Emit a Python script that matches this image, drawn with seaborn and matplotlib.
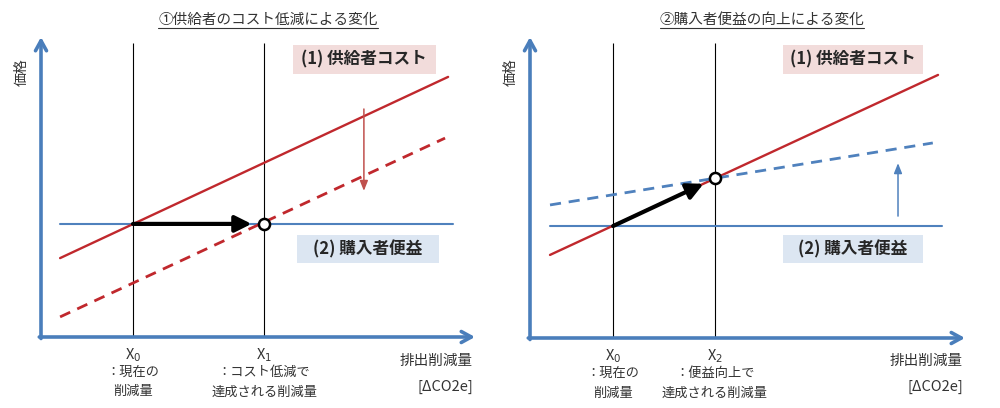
import matplotlib
matplotlib.use("Agg")
import matplotlib.pyplot as plt
import seaborn as sns
from matplotlib.patches import Rectangle
from matplotlib.lines import Line2D

sns.set_theme(style="white")
plt.rcParams['font.family'] = ['Noto Sans CJK JP', 'DejaVu Sans']

# ---------------- data (arbitrary diagram units, 0-100) ----------------
# Left panel: supplier cost reduction
L_x0, L_x1 = 21.2, 51.4
L_benefit_x = [4.4, 95.0]
L_benefit_y = [37.7, 37.7]
L_cost_x = [4.4, 93.8]
L_cost_y = [26.3, 86.7]
L_cost_new_x = [4.4, 93.1]
L_cost_new_y = [6.7, 66.3]
L_shift_arrow_x = 74.4
L_shift_arrow_y = [76.0, 48.7]

# Right panel: buyer benefit improvement
R_x0, R_x2 = 19.1, 42.5
R_benefit_x = [4.6, 94.7]
R_benefit_y = [37.2, 37.2]
R_cost_x = [4.6, 93.8]
R_cost_y = [27.6, 87.4]
R_benefit_new_x = [4.6, 92.6]
R_benefit_new_y = [44.2, 64.8]
R_eq_y = 53.0
R_shift_arrow_x = 84.6
R_shift_arrow_y = [40.5, 58.1]

vline_top = 98

titles = ["①供給者のコスト低減による変化", "②購入者便益の向上による変化"]
ylabel = "価格"
xlabel1 = "排出削減量"
xlabel2 = "[ΔCO2e]"
box1_text = "(1) 供給者コスト"
box2_text = "(2) 購入者便益"
L_ticks = [("X$_0$", "：現在の", "削減量"), ("X$_1$", "：コスト低減で", "達成される削減量")]
R_ticks = [("X$_0$", "：現在の", "削減量"), ("X$_2$", "：便益向上で", "達成される削減量")]

# ---------------- style ----------------
AX_BLUE = "#4A7EBB"
RED = "#C0282D"
RED_ARROW = "#C0504D"
BLUE = "#4F81BD"
PINK_BOX = "#F2DCDB"
BLUE_BOX = "#DCE6F2"
TXT = "#262626"
GRAY_TXT = "#333333"

W, H = 1000, 408
fig = plt.figure(figsize=(W / 100, H / 100), dpi=100)


def px_axes(left, right, bottom, top):
    return fig.add_axes([left / W, 1 - bottom / H, (right - left) / W, (bottom - top) / H])


def setup(ax):
    ax.set_xlim(0, 100)
    ax.set_ylim(0, 100)
    for s in ax.spines.values():
        s.set_visible(False)
    ax.set_xticks([])
    ax.set_yticks([])
    ax.patch.set_alpha(0)
    arrow = dict(arrowstyle="->,head_length=0.6,head_width=0.33", color=AX_BLUE, lw=2.6,
                 shrinkA=0, shrinkB=0)
    ax.annotate("", xy=(0, 1), xytext=(0, -0.005), xycoords="axes fraction",
                arrowprops=arrow, annotation_clip=False)
    ax.annotate("", xy=(1, 0), xytext=(-0.004, 0), xycoords="axes fraction",
                arrowprops=arrow, annotation_clip=False)


def label_box(ax, x0, x1, y0, y1, text, fc):
    ax.add_patch(Rectangle((x0, y0), x1 - x0, y1 - y0, facecolor=fc, edgecolor="none", zorder=1))
    ax.text((x0 + x1) / 2, (y0 + y1) / 2, text, ha="center", va="center", fontsize=12,
            fontweight="bold", color=TXT, zorder=2)


def xticks_text(ax, xs, labels):
    for x, (a, b, c) in zip(xs, labels):
        ax.text(x, -6.0, a, ha="center", va="center", fontsize=10.5, color=GRAY_TXT, clip_on=False)
        ax.text(x, -11.8, b, ha="center", va="center", fontsize=9.5, color=GRAY_TXT, clip_on=False)
        ax.text(x, -18.3, c, ha="center", va="center", fontsize=9.5, color=GRAY_TXT, clip_on=False)


# ---------------- left panel ----------------
axL = px_axes(41, 475, 337, 37)
setup(axL)
axL.vlines([L_x0, L_x1], 0, vline_top, color="black", lw=0.8, zorder=2)
sns.lineplot(x=L_benefit_x, y=L_benefit_y, ax=axL, color=BLUE, lw=1.5, zorder=3)
sns.lineplot(x=L_cost_x, y=L_cost_y, ax=axL, color=RED, lw=1.7, zorder=3)
sns.lineplot(x=L_cost_new_x, y=L_cost_new_y, ax=axL, color=RED, lw=2.0, zorder=3)
axL.lines[-1].set_linestyle((0, (4, 2.8)))
axL.annotate("", xy=(L_shift_arrow_x, L_shift_arrow_y[1]), xytext=(L_shift_arrow_x, L_shift_arrow_y[0]),
             arrowprops=dict(arrowstyle="-|>,head_length=0.5,head_width=0.2", color=RED_ARROW, lw=1.1,
                             shrinkA=0, shrinkB=0), zorder=4)
axL.annotate("", xy=(L_x1, L_benefit_y[0]), xytext=(L_x0, L_benefit_y[0]),
             arrowprops=dict(arrowstyle="-|>,head_length=0.7,head_width=0.35", color="black", lw=3,
                             shrinkA=0, shrinkB=9, mutation_scale=14), zorder=5)
axL.plot([L_x1], [L_benefit_y[0]], marker="o", ms=8, mfc="white", mec="black", mew=1.8, zorder=6)
label_box(axL, 58.0, 91.0, 87.7, 97.3, box1_text, PINK_BOX)
label_box(axL, 59.0, 91.7, 24.7, 34.0, box2_text, BLUE_BOX)
xticks_text(axL, [L_x0, L_x1], L_ticks)

# ---------------- right panel ----------------
axR = px_axes(530, 965, 338, 37)
setup(axR)
axR.vlines([R_x0, R_x2], 0, vline_top, color="black", lw=0.8, zorder=2)
sns.lineplot(x=R_benefit_x, y=R_benefit_y, ax=axR, color=BLUE, lw=1.5, zorder=3)
sns.lineplot(x=R_cost_x, y=R_cost_y, ax=axR, color=RED, lw=1.7, zorder=3)
sns.lineplot(x=R_benefit_new_x, y=R_benefit_new_y, ax=axR, color=BLUE, lw=2.0, zorder=3)
axR.lines[-1].set_linestyle((0, (4, 2.8)))
axR.annotate("", xy=(R_shift_arrow_x, R_shift_arrow_y[1]), xytext=(R_shift_arrow_x, R_shift_arrow_y[0]),
             arrowprops=dict(arrowstyle="-|>,head_length=0.5,head_width=0.2", color=BLUE, lw=1.1,
                             shrinkA=0, shrinkB=0), zorder=4)
axR.annotate("", xy=(R_x2, R_eq_y), xytext=(R_x0, R_benefit_y[0]),
             arrowprops=dict(arrowstyle="-|>,head_length=0.7,head_width=0.35", color="black", lw=3,
                             shrinkA=0, shrinkB=9, mutation_scale=14), zorder=5)
axR.plot([R_x2], [R_eq_y], marker="o", ms=8, mfc="white", mec="black", mew=1.8, zorder=6)
label_box(axR, 58.2, 90.3, 87.7, 97.3, box1_text, PINK_BOX)
label_box(axR, 58.2, 90.3, 24.9, 34.2, box2_text, BLUE_BOX)
xticks_text(axR, [R_x0, R_x2], R_ticks)

# ---------------- texts in figure pixels ----------------
def ftext(xp, yp, s, **kw):
    return fig.text(xp / W, 1 - yp / H, s, **kw)

title_objs = [ftext(268, 20, titles[0], ha="center", va="center", fontsize=10.5, color=GRAY_TXT),
              ftext(762, 20, titles[1], ha="center", va="center", fontsize=10.5, color=GRAY_TXT)]
ftext(22, 72, ylabel, ha="center", va="center", rotation=90, fontsize=10, color=GRAY_TXT)
ftext(511, 72, ylabel, ha="center", va="center", rotation=90, fontsize=10, color=GRAY_TXT)
for xr in (473, 963):
    ftext(xr, 361, xlabel1, ha="right", va="center", fontsize=10.5, color=GRAY_TXT)
    ftext(xr, 387, xlabel2, ha="right", va="center", fontsize=10.5, color=GRAY_TXT)

# underline titles
fig.canvas.draw()
r = fig.canvas.get_renderer()
for t in title_objs:
    bb = t.get_window_extent(r)
    y = bb.y0 - 1
    fig.add_artist(Line2D([bb.x0 / W, bb.x1 / W], [y / H, y / H], color=GRAY_TXT, lw=0.8,
                          transform=fig.transFigure))

fig.savefig("out.png", dpi=100, facecolor="white")
